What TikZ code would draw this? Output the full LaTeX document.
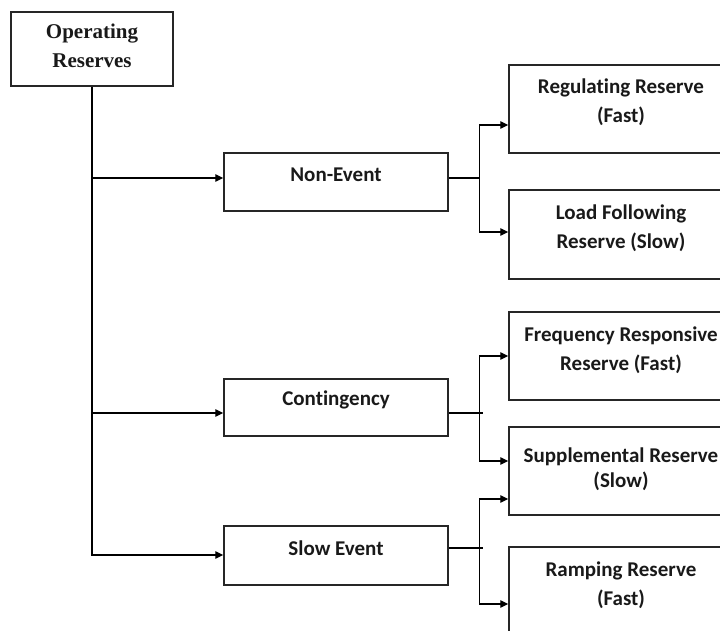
\documentclass[tikz,border=0pt]{standalone}
\usepackage{fontspec}
\setmainfont[Ligatures=NoCommon]{Carlito}
\newfontfamily\opfont{Liberation Serif}
\usetikzlibrary{arrows.meta,calc}
\begin{document}
\begin{tikzpicture}[x=1pt,y=-1pt,
  box/.style={draw=black!85, line width=1.5pt, rectangle, inner sep=0pt},
  lbl/.style={font=\fontsize{21}{29}\selectfont\bfseries, align=center, inner sep=0pt, text=black!90},
  conn/.style={line width=1.4pt, black},
  arr/.style={conn, -{Triangle[length=8pt,width=7.5pt]}}]
\useasboundingbox (0,0) rectangle (720,630);
\clip (0,0) rectangle (720,630);
% root
\node[box, minimum width=162pt, minimum height=74pt] (op) at (92,49) {};
\node[lbl, font=\opfont\fontsize{21}{29}\selectfont\bfseries] (opt) at (92,45.5) {Operating\\Reserves};
% middle column
\node[box, minimum width=224pt, minimum height=58pt] (ne) at (336,182) {};
\node[lbl] (net) at (336,175) {Non-Event};
\node[box, minimum width=224pt, minimum height=57pt] (ct) at (336,407.5) {};
\node[lbl] (ctt) at (336,400) {Contingency};
\node[box, minimum width=224pt, minimum height=59pt] (se) at (336,555.5) {};
\node[lbl] (set) at (336,548) {Slow Event};
% right column
\node[box, minimum width=224pt, minimum height=88pt] (reg) at (621,109) {};
\node[lbl] (regt) at (621,102.5) {Regulating Reserve\\(Fast)};
\node[box, minimum width=224pt, minimum height=89pt] (load) at (621,234.5) {};
\node[lbl] (loadt) at (621,228) {Load Following\\Reserve (Slow)};
\node[box, minimum width=224pt, minimum height=88pt] (freq) at (621,356) {};
\node[lbl] (freqt) at (621,350) {Frequency Responsive\\Reserve (Fast)};
\node[box, minimum width=224pt, minimum height=88pt] (supp) at (621,471) {};
\node[lbl, font=\fontsize{21}{25}\selectfont\bfseries] (suppt) at (621,469.5) {Supplemental Reserve\\(Slow)};
\node[box, minimum width=224pt, minimum height=88pt] (ramp) at (621,591) {};
\node[lbl] (rampt) at (621,585) {Ramping Reserve\\(Fast)};
% trunk
\draw[arr] (op.south) |- ($(se.west)+(0,-0.5)$);
\draw[arr] ($(op.south |- ne.west)+(0,-4)$) -- ($(ne.west)+(0,-4)$);
\draw[arr] ($(op.south |- ct.west)+(0,5.5)$) -- ($(ct.west)+(0,5.5)$);
% non-event branches
\coordinate (j1) at ($(ne.east)+(31,-4)$);
\draw[conn] ($(ne.east)+(0,-4)$) -- (j1);
\draw[arr] (j1) |- ($(reg.west)+(0,16)$);
\draw[arr] (j1) |- ($(load.west)+(0,-2.5)$);
% contingency branches
\coordinate (j2) at ($(ct.east)+(31,5.5)$);
\draw[conn] ($(ct.east)+(0,5.5)$) -- ($(j2)+(3,0)$);
\draw[arr] (j2) |- (freq.west);
\draw[arr] (j2) |- ($(supp.west)+(0,-10)$);
% slow event branches
\coordinate (j3) at ($(se.east)+(31,-7.5)$);
\draw[conn] ($(se.east)+(0,-7.5)$) -- ($(j3)+(3,0)$);
\draw[arr] (j3) |- ($(supp.west)+(0,28)$);
\draw[arr] (j3) |- ($(ramp.west)+(0,13)$);
\end{tikzpicture}
\end{document}
